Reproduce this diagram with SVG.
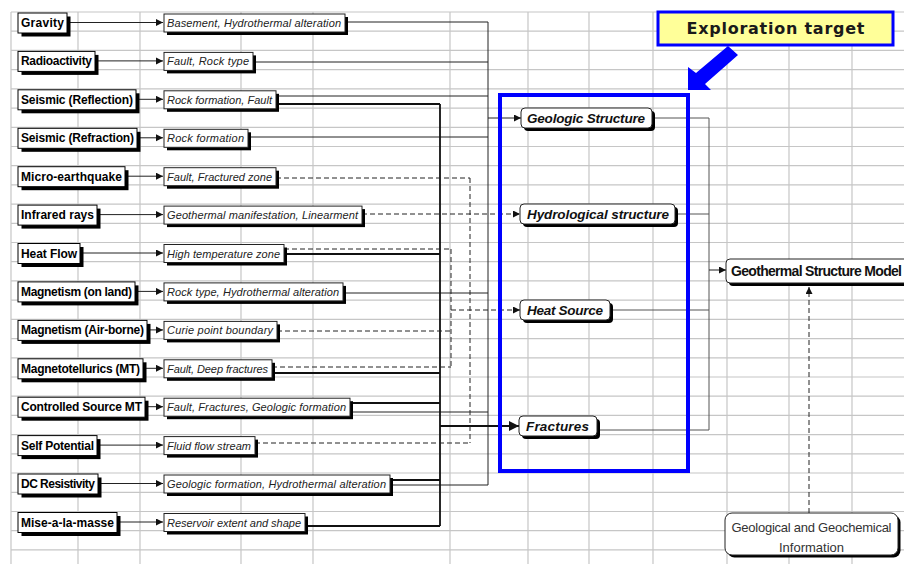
<svg xmlns="http://www.w3.org/2000/svg" width="904" height="564" viewBox="0 0 904 564">
<defs>
<style>
.grid{stroke:#c6c6c6;stroke-width:1.2;fill:none}
.sh{fill:#000}
.lb{fill:#fff;stroke:#000;stroke-width:1}
.mb{fill:#fff;stroke:#222;stroke-width:1}
.lt{font-family:"Liberation Sans",Arial,sans-serif;font-weight:bold;font-size:12px;fill:#000}
.mt{font-family:"Liberation Sans",Arial,sans-serif;font-style:italic;font-size:11px;fill:#222}
.rt{font-family:"Liberation Sans",Arial,sans-serif;font-style:italic;font-weight:bold;font-size:13.5px;fill:#111}
.c{stroke:#222;stroke-width:1;fill:none}
.cb{stroke:#111;stroke-width:1.8;fill:none}
.cg{stroke:#555;stroke-width:1;fill:none}
.d{stroke-dasharray:5 3}
</style>
<marker id="ah" markerUnits="userSpaceOnUse" markerWidth="8" markerHeight="8" refX="7" refY="3.5" orient="auto"><path d="M0,0 L7,3.5 L0,7 z" fill="#111"/></marker>
<marker id="ahb" markerUnits="userSpaceOnUse" markerWidth="12" markerHeight="12" refX="10" refY="5" orient="auto"><path d="M0,0 L10,5 L0,10 z" fill="#111"/></marker>
</defs>
<rect x="0" y="0" width="904" height="564" fill="#fff"/>
<g id="grid" class="grid">
<path d="M11 12H904M11 31.2H904M11 50.4H904M11 69.6H904M11 88.8H904M11 108.1H904M11 127.3H904M11 146.5H904M11 165.7H904M11 184.9H904M11 204.1H904M11 223.3H904M11 242.5H904M11 261.7H904M11 280.9H904M11 300.2H904M11 319.4H904M11 338.6H904M11 357.8H904M11 377H904M11 396.2H904M11 415.4H904M11 434.6H904M11 453.8H904M11 473H904M11 492.3H904M11 511.5H904M11 530.7H904M11 549.9H904"/>
<path d="M11 12V564M78 12V564M140 12V564M241 12V564M313 12V564M450 12V564M528 12V564M589 12V564M653 12V564M727 12V564M789 12V564M852 12V564"/>
</g>
<g id="connectors">
<g id="left-arrows" class="c">
<path d="M67 22.5H163" marker-end="url(#ah)"/>
<path d="M95 60.9H163" marker-end="url(#ah)"/>
<path d="M136 99.3H163" marker-end="url(#ah)"/>
<path d="M137 137.8H163" marker-end="url(#ah)"/>
<path d="M125 176.2H163" marker-end="url(#ah)"/>
<path d="M97 214.6H163" marker-end="url(#ah)"/>
<path d="M80 253H163" marker-end="url(#ah)"/>
<path d="M135 291.4H163" marker-end="url(#ah)"/>
<path d="M147 329.9H163" marker-end="url(#ah)"/>
<path d="M143 368.3H163" marker-end="url(#ah)"/>
<path d="M145 406.7H163" marker-end="url(#ah)"/>
<path d="M97 445.1H163" marker-end="url(#ah)"/>
<path d="M98 483.5H163" marker-end="url(#ah)"/>
<path d="M117 522H163" marker-end="url(#ah)"/>
</g>
<g id="bus-geologic" class="c">
<path d="M345 22H488M253 62H488M276 96H488M248 137H488M343 293H488M350 412H488M390 485H488M488 22V485"/>
<path d="M488 118H521" marker-end="url(#ah)"/>
</g>
<g id="bus-fractures" class="cb">
<path d="M276 104H440M284 254H440M272 373H440M350 403H440M390 480H440M305 526H440M440 104V526"/>
<path d="M440 426H519" marker-end="url(#ahb)"/>
</g>
<g id="bus-hydro" class="c d">
<path d="M276 178H470M255 443H470M470 178V443"/>
<path d="M362 214H520" marker-end="url(#ah)"/>
</g>
<g id="bus-heat" class="c d">
<path d="M284 249H451M277 331H451M272 367H451M451 249V367"/>
<path d="M451 310H520" marker-end="url(#ah)"/>
</g>
<g id="bus-model" class="cg">
<path d="M652 118H709M675 214H709M610 310H709M597 430H709M709 118V430"/>
<path d="M709 270H726" stroke="#222" marker-end="url(#ah)"/>
</g>
<path id="info-arrow" class="c d" d="M809 513V287" stroke-dasharray="4 3" marker-end="url(#ah)"/>
</g>
<g id="methods">
<g id="n-gravity"><rect class="sh" x="21.5" y="16.5" width="49" height="20"/><rect class="lb" x="18" y="13" width="49" height="20"/><text class="lt" x="21" y="27" textLength="43">Gravity</text></g>
<g id="n-radio"><rect class="sh" x="21.5" y="54.9" width="77" height="20"/><rect class="lb" x="18" y="51.4" width="77" height="20"/><text class="lt" x="21" y="65.4" textLength="71">Radioactivity</text></g>
<g id="n-reflect"><rect class="sh" x="21.5" y="93.3" width="118" height="20"/><rect class="lb" x="18" y="89.8" width="118" height="20"/><text class="lt" x="21" y="103.8" textLength="112">Seismic (Reflection)</text></g>
<g id="n-refract"><rect class="sh" x="21.5" y="131.8" width="119" height="20"/><rect class="lb" x="18" y="128.3" width="119" height="20"/><text class="lt" x="21" y="142.3" textLength="113">Seismic (Refraction)</text></g>
<g id="n-micro"><rect class="sh" x="21.5" y="170.2" width="107" height="20"/><rect class="lb" x="18" y="166.7" width="107" height="20"/><text class="lt" x="21" y="180.7" textLength="101">Micro-earthquake</text></g>
<g id="n-infrared"><rect class="sh" x="21.5" y="208.6" width="79" height="20"/><rect class="lb" x="18" y="205.1" width="79" height="20"/><text class="lt" x="21" y="219.1" textLength="73">Infrared rays</text></g>
<g id="n-heatflow"><rect class="sh" x="21.5" y="247" width="62" height="20"/><rect class="lb" x="18" y="243.5" width="62" height="20"/><text class="lt" x="21" y="257.5" textLength="56">Heat Flow</text></g>
<g id="n-maglan"><rect class="sh" x="21.5" y="285.4" width="117" height="20"/><rect class="lb" x="18" y="281.9" width="117" height="20"/><text class="lt" x="21" y="295.9" textLength="111">Magnetism (on land)</text></g>
<g id="n-magair"><rect class="sh" x="21.5" y="323.9" width="129" height="20"/><rect class="lb" x="18" y="320.4" width="129" height="20"/><text class="lt" x="21" y="334.4" textLength="123">Magnetism (Air-borne)</text></g>
<g id="n-mt"><rect class="sh" x="21.5" y="362.3" width="125" height="20"/><rect class="lb" x="18" y="358.8" width="125" height="20"/><text class="lt" x="21" y="372.8" textLength="119">Magnetotellurics (MT)</text></g>
<g id="n-csmt"><rect class="sh" x="21.5" y="400.7" width="127" height="20"/><rect class="lb" x="18" y="397.2" width="127" height="20"/><text class="lt" x="21" y="411.2" textLength="121">Controlled Source MT</text></g>
<g id="n-sp"><rect class="sh" x="21.5" y="439.1" width="79" height="20"/><rect class="lb" x="18" y="435.6" width="79" height="20"/><text class="lt" x="21" y="449.6" textLength="73">Self Potential</text></g>
<g id="n-dc"><rect class="sh" x="21.5" y="477.5" width="80" height="20"/><rect class="lb" x="18" y="474" width="80" height="20"/><text class="lt" x="21" y="488" textLength="74">DC Resistivity</text></g>
<g id="n-mise"><rect class="sh" x="21.5" y="516" width="99" height="20"/><rect class="lb" x="18" y="512.5" width="99" height="20"/><text class="lt" x="21" y="526.5" textLength="93">Mise-a-la-masse</text></g>
</g>
<g id="targets">
<g id="t-basement"><rect class="sh" x="167" y="17" width="181" height="18"/><rect class="mb" x="164" y="14" width="181" height="18"/><text class="mt" x="167" y="27" textLength="174">Basement, Hydrothermal alteration</text></g>
<g id="t-faultrock"><rect class="sh" x="167" y="55.4" width="89" height="18"/><rect class="mb" x="164" y="52.4" width="89" height="18"/><text class="mt" x="167" y="65.4" textLength="82">Fault, Rock type</text></g>
<g id="t-rockfault"><rect class="sh" x="167" y="93.8" width="112" height="18"/><rect class="mb" x="164" y="90.8" width="112" height="18"/><text class="mt" x="167" y="103.8" textLength="105">Rock formation, Fault</text></g>
<g id="t-rockform"><rect class="sh" x="167" y="132.3" width="84" height="18"/><rect class="mb" x="164" y="129.3" width="84" height="18"/><text class="mt" x="167" y="142.3" textLength="77">Rock formation</text></g>
<g id="t-faultfrac"><rect class="sh" x="167" y="170.7" width="112" height="18"/><rect class="mb" x="164" y="167.7" width="112" height="18"/><text class="mt" x="167" y="180.7" textLength="105">Fault, Fractured zone</text></g>
<g id="t-geomanif"><rect class="sh" x="167" y="209.1" width="198" height="18"/><rect class="mb" x="164" y="206.1" width="198" height="18"/><text class="mt" x="167" y="219.1" textLength="191">Geothermal manifestation, Linearment</text></g>
<g id="t-hightemp"><rect class="sh" x="167" y="247.5" width="120" height="18"/><rect class="mb" x="164" y="244.5" width="120" height="18"/><text class="mt" x="167" y="257.5" textLength="113">High temperature zone</text></g>
<g id="t-rockhydro"><rect class="sh" x="167" y="285.9" width="179" height="18"/><rect class="mb" x="164" y="282.9" width="179" height="18"/><text class="mt" x="167" y="295.9" textLength="172">Rock type, Hydrothermal alteration</text></g>
<g id="t-curie"><rect class="sh" x="167" y="324.4" width="113" height="18"/><rect class="mb" x="164" y="321.4" width="113" height="18"/><text class="mt" x="167" y="334.4" textLength="106">Curie point boundary</text></g>
<g id="t-faultdeep"><rect class="sh" x="167" y="362.8" width="108" height="18"/><rect class="mb" x="164" y="359.8" width="108" height="18"/><text class="mt" x="167" y="372.8" textLength="101">Fault, Deep fractures</text></g>
<g id="t-faultgeo"><rect class="sh" x="167" y="401.2" width="186" height="18"/><rect class="mb" x="164" y="398.2" width="186" height="18"/><text class="mt" x="167" y="411.2" textLength="179">Fault, Fractures, Geologic formation</text></g>
<g id="t-fluid"><rect class="sh" x="167" y="439.6" width="91" height="18"/><rect class="mb" x="164" y="436.6" width="91" height="18"/><text class="mt" x="167" y="449.6" textLength="84">Fluid flow stream</text></g>
<g id="t-geohydro"><rect class="sh" x="167" y="478" width="226" height="18"/><rect class="mb" x="164" y="475" width="226" height="18"/><text class="mt" x="167" y="488" textLength="219">Geologic formation, Hydrothermal alteration</text></g>
<g id="t-reservoir"><rect class="sh" x="167" y="516.5" width="141" height="18"/><rect class="mb" x="164" y="513.5" width="141" height="18"/><text class="mt" x="167" y="526.5" textLength="134">Reservoir extent and shape</text></g>
</g>
<g id="structures">
<g id="s-geologic"><rect class="sh" x="524" y="111" width="131" height="20" rx="4"/><rect class="mb" x="521" y="108" width="131" height="20" rx="4"/><text class="rt" x="527" y="123" textLength="118">Geologic Structure</text></g>
<g id="s-hydro"><rect class="sh" x="523" y="207" width="155" height="20" rx="4"/><rect class="mb" x="520" y="204" width="155" height="20" rx="4"/><text class="rt" x="527" y="219" textLength="142">Hydrological structure</text></g>
<g id="s-heat"><rect class="sh" x="523" y="303" width="90" height="20" rx="4"/><rect class="mb" x="520" y="300" width="90" height="20" rx="4"/><text class="rt" x="527" y="315" textLength="76">Heat Source</text></g>
<g id="s-fractures"><rect class="sh" x="522" y="419" width="78" height="20" rx="4"/><rect class="mb" x="519" y="416" width="78" height="20" rx="4"/><text class="rt" x="526" y="431" textLength="63">Fractures</text></g>
</g>
<g id="n-model"><rect class="sh" x="729" y="262" width="200" height="24" rx="4"/><rect class="mb" x="726" y="259" width="200" height="24" rx="4"/><text x="731" y="276" font-family="Liberation Sans, Arial, sans-serif" font-weight="bold" font-size="14" fill="#111" textLength="171">Geothermal Structure Model</text></g>
<g id="n-info"><rect class="sh" x="727.5" y="515.5" width="173" height="42" rx="7"/><rect class="mb" x="725" y="513" width="173" height="42" rx="7"/><text x="811.5" y="532" text-anchor="middle" font-family="Liberation Sans, Arial, sans-serif" font-size="13" fill="#333" textLength="160">Geological and Geochemical</text><text x="811.5" y="552" text-anchor="middle" font-family="Liberation Sans, Arial, sans-serif" font-size="13" fill="#333">Information</text></g>
<rect id="exploration-frame" x="500" y="95" width="188" height="376" fill="none" stroke="#0000ff" stroke-width="4"/>
<g id="n-exploration"><rect x="658" y="12" width="235" height="33" fill="#ffff99" stroke="#0000ff" stroke-width="3"/><text x="775.5" y="34" text-anchor="middle" font-family="DejaVu Sans, Verdana, sans-serif" font-weight="bold" font-size="16" fill="#1a1a1a" textLength="178">Exploration target</text></g>
<polygon id="blue-arrow" points="688,90 688,67 696,73 728,46 738,55 705,84 711,90" fill="#0000ff"/>
</svg>
